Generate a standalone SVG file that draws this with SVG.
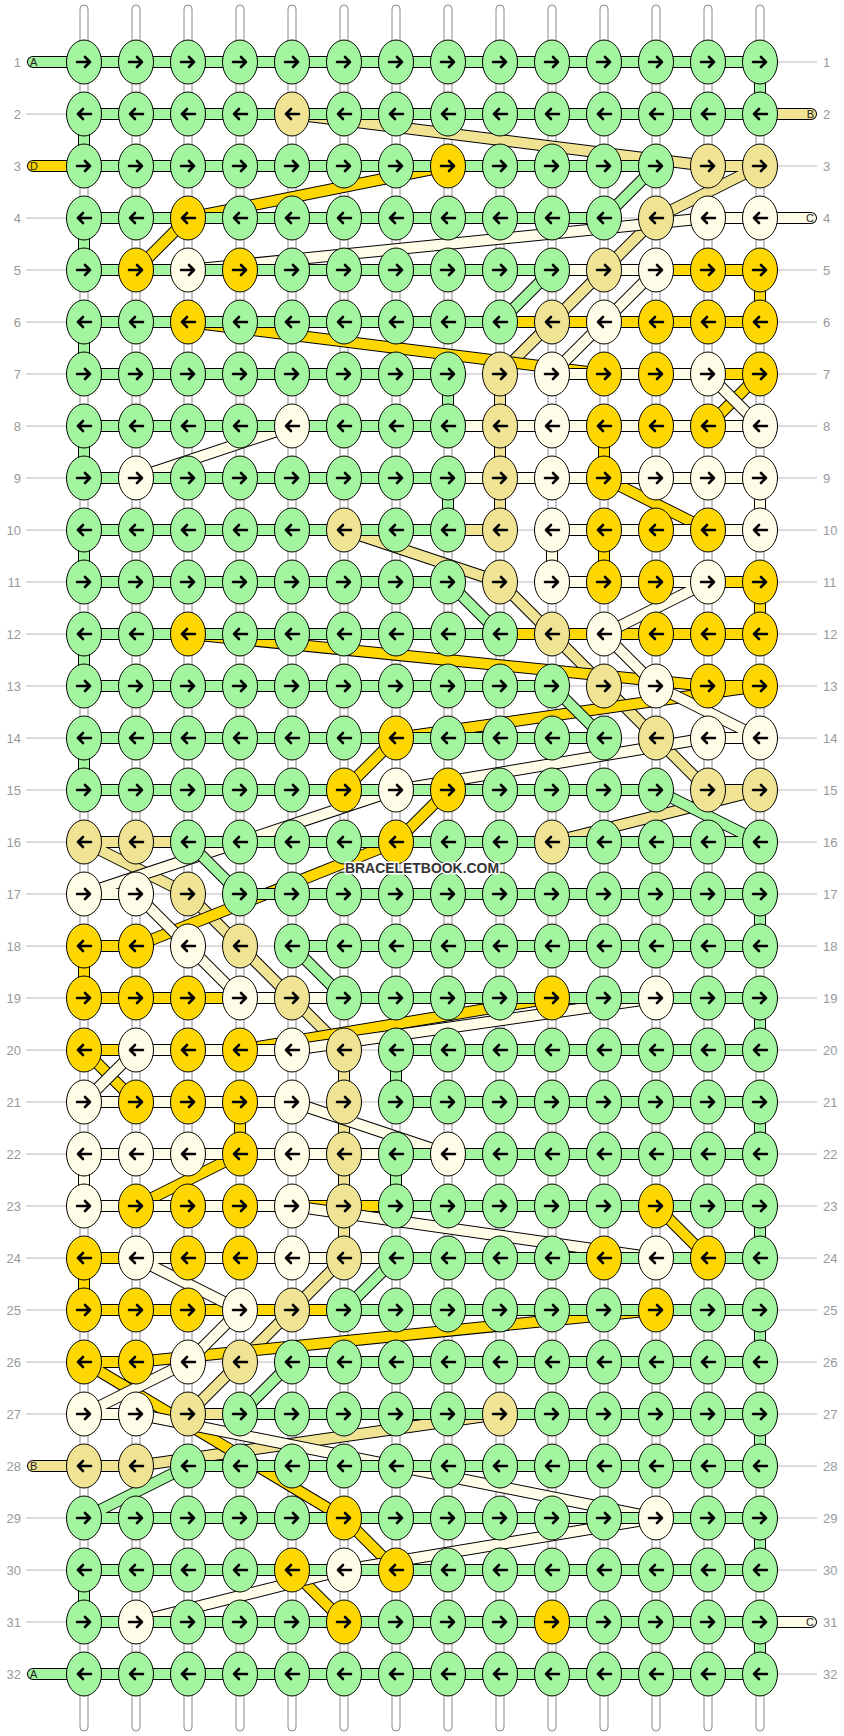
<svg xmlns="http://www.w3.org/2000/svg" xmlns:xlink="http://www.w3.org/1999/xlink" width="844" height="1736" viewBox="0 0 844 1736">
<defs>
<style>
.rn{font-family:"Liberation Sans",Arial,sans-serif;font-size:13px;fill:#999}
.rl{text-anchor:end}
.o{fill:none;stroke:#000;stroke-width:12;stroke-linejoin:round;stroke-linecap:round}
.f{fill:none;stroke-width:10;stroke-linejoin:round;stroke-linecap:round}
.w{fill:#fff;stroke:#8a8a8a;stroke-width:1}
.sl{font-family:"Liberation Sans",Arial,sans-serif;font-size:11px;fill:#222}
</style>
<path id="aR" d="M-7,0H6M1,-5L6,0L1,5" fill="none" stroke="#000" stroke-width="2.6" stroke-linecap="round" stroke-linejoin="round"/>
<path id="aL" d="M7,0H-6M-1,-5L-6,0L-1,5" fill="none" stroke="#000" stroke-width="2.6" stroke-linecap="round" stroke-linejoin="round"/>
<g id="gR"><ellipse rx="17.5" ry="22" fill="#a3f5a0" stroke="#000" stroke-width="1"/><use href="#aR"/></g>
<g id="gL"><ellipse rx="17.5" ry="22" fill="#a3f5a0" stroke="#000" stroke-width="1"/><use href="#aL"/></g>
<g id="bR"><ellipse rx="17.5" ry="22" fill="#f0e394" stroke="#000" stroke-width="1"/><use href="#aR"/></g>
<g id="bL"><ellipse rx="17.5" ry="22" fill="#f0e394" stroke="#000" stroke-width="1"/><use href="#aL"/></g>
<g id="cR"><ellipse rx="17.5" ry="22" fill="#fffde8" stroke="#000" stroke-width="1"/><use href="#aR"/></g>
<g id="cL"><ellipse rx="17.5" ry="22" fill="#fffde8" stroke="#000" stroke-width="1"/><use href="#aL"/></g>
<g id="dR"><ellipse rx="17.5" ry="22" fill="#ffd700" stroke="#000" stroke-width="1"/><use href="#aR"/></g>
<g id="dL"><ellipse rx="17.5" ry="22" fill="#ffd700" stroke="#000" stroke-width="1"/><use href="#aL"/></g>
</defs>
<rect width="844" height="1736" fill="#fff"/>
<g id="rowlines" stroke="#b8b8b8" stroke-width="1">
<path d="M26,62H817M26,114H817M26,166H817M26,218H817M26,270H817M26,322H817M26,374H817M26,426H817M26,478H817M26,530H817M26,582H817M26,634H817M26,686H817M26,738H817M26,790H817M26,842H817M26,894H817M26,946H817M26,998H817M26,1050H817M26,1102H817M26,1154H817M26,1206H817M26,1258H817M26,1310H817M26,1362H817M26,1414H817M26,1466H817M26,1518H817M26,1570H817M26,1622H817M26,1674H817"/>
</g>
<g id="warps">
<rect class="w" x="80" y="5" width="8" height="1726" rx="4"/>
<rect class="w" x="132" y="5" width="8" height="1726" rx="4"/>
<rect class="w" x="184" y="5" width="8" height="1726" rx="4"/>
<rect class="w" x="236" y="5" width="8" height="1726" rx="4"/>
<rect class="w" x="288" y="5" width="8" height="1726" rx="4"/>
<rect class="w" x="340" y="5" width="8" height="1726" rx="4"/>
<rect class="w" x="392" y="5" width="8" height="1726" rx="4"/>
<rect class="w" x="444" y="5" width="8" height="1726" rx="4"/>
<rect class="w" x="496" y="5" width="8" height="1726" rx="4"/>
<rect class="w" x="548" y="5" width="8" height="1726" rx="4"/>
<rect class="w" x="600" y="5" width="8" height="1726" rx="4"/>
<rect class="w" x="652" y="5" width="8" height="1726" rx="4"/>
<rect class="w" x="704" y="5" width="8" height="1726" rx="4"/>
<rect class="w" x="756" y="5" width="8" height="1726" rx="4"/>
</g>
<g id="connectors">
<g id="strandB">
<polyline class="o" points="811,114 292,114 708,166 760,166 656,218 604,270 552,322 500,374 500,530 344,530 500,582 552,634 604,686 656,738 708,790 760,790 552,842 84,842 188,894 240,946 292,998 344,1050 344,1258 292,1310 240,1362 188,1414 500,1414 136,1466 33,1466"/>
<polyline class="f" stroke="#f0e394" points="811,114 292,114 708,166 760,166 656,218 604,270 552,322 500,374 500,530 344,530 500,582 552,634 604,686 656,738 708,790 760,790 552,842 84,842 188,894 240,946 292,998 344,1050 344,1258 292,1310 240,1362 188,1414 500,1414 136,1466 33,1466"/>
</g>
<g id="strandD">
<polyline class="o" points="33,166 448,166 188,218 136,270 760,270 760,322 188,322 604,374 760,374 708,426 604,426 604,478 708,530 604,530 604,582 760,582 760,634 188,634 708,686 760,686 396,738 344,790 448,790 396,842 136,946 84,946 84,998 552,998 240,1050 84,1050 136,1102 240,1102 240,1154 136,1206 656,1206 708,1258 84,1258 84,1310 656,1310 136,1362 84,1362 344,1518 396,1570 292,1570 344,1622 552,1622"/>
<polyline class="f" stroke="#ffd700" points="33,166 448,166 188,218 136,270 760,270 760,322 188,322 604,374 760,374 708,426 604,426 604,478 708,530 604,530 604,582 760,582 760,634 188,634 708,686 760,686 396,738 344,790 448,790 396,842 136,946 84,946 84,998 552,998 240,1050 84,1050 136,1102 240,1102 240,1154 136,1206 656,1206 708,1258 84,1258 84,1310 656,1310 136,1362 84,1362 344,1518 396,1570 292,1570 344,1622 552,1622"/>
</g>
<g id="strandC">
<polyline class="o" points="811,218 708,218 188,270 656,270 604,322 552,374 708,374 760,426 292,426 136,478 760,478 760,530 552,530 552,582 708,582 604,634 656,686 760,738 708,738 396,790 84,894 136,894 188,946 240,998 656,998 292,1050 136,1050 84,1102 292,1102 448,1154 84,1154 84,1206 292,1206 656,1258 136,1258 240,1310 188,1362 84,1414 136,1414 656,1518 344,1570 136,1622 811,1622"/>
<polyline class="f" stroke="#fffde8" points="811,218 708,218 188,270 656,270 604,322 552,374 708,374 760,426 292,426 136,478 760,478 760,530 552,530 552,582 708,582 604,634 656,686 760,738 708,738 396,790 84,894 136,894 188,946 240,998 656,998 292,1050 136,1050 84,1102 292,1102 448,1154 84,1154 84,1206 292,1206 656,1258 136,1258 240,1310 188,1362 84,1414 136,1414 656,1518 344,1570 136,1622 811,1622"/>
</g>
<g id="strandA">
<polyline class="o" points="33,62 760,62 760,114 84,114 84,166 656,166 604,218 84,218 84,270 552,270 500,322 84,322 84,374 448,374 448,426 84,426 84,478 448,478 448,530 84,530 84,582 448,582 500,634 84,634 84,686 552,686 604,738 84,738 84,790 656,790 760,842 188,842 240,894 760,894 760,946 292,946 344,998 760,998 760,1050 396,1050 396,1102 760,1102 760,1154 396,1154 396,1206 760,1206 760,1258 396,1258 344,1310 760,1310 760,1362 292,1362 240,1414 760,1414 760,1466 188,1466 84,1518 760,1518 760,1570 84,1570 84,1622 760,1622 760,1674 33,1674"/>
<polyline class="f" stroke="#a3f5a0" points="33,62 760,62 760,114 84,114 84,166 656,166 604,218 84,218 84,270 552,270 500,322 84,322 84,374 448,374 448,426 84,426 84,478 448,478 448,530 84,530 84,582 448,582 500,634 84,634 84,686 552,686 604,738 84,738 84,790 656,790 760,842 188,842 240,894 760,894 760,946 292,946 344,998 760,998 760,1050 396,1050 396,1102 760,1102 760,1154 396,1154 396,1206 760,1206 760,1258 396,1258 344,1310 760,1310 760,1362 292,1362 240,1414 760,1414 760,1466 188,1466 84,1518 760,1518 760,1570 84,1570 84,1622 760,1622 760,1674 33,1674"/>
</g>
</g>
<g id="stublabels" class="sl">
<text x="30" y="66">A</text>
<text x="30" y="170">D</text>
<text x="30" y="1470">B</text>
<text x="30" y="1678">A</text>
<text x="814" y="118" text-anchor="end">B</text>
<text x="814" y="222" text-anchor="end">C</text>
<text x="814" y="1626" text-anchor="end">C</text>
</g>
<g id="knots">
<g id="n1-1"><use href="#gR" x="84" y="62"/></g><g id="n1-2"><use href="#gR" x="136" y="62"/></g><g id="n1-3"><use href="#gR" x="188" y="62"/></g><g id="n1-4"><use href="#gR" x="240" y="62"/></g><g id="n1-5"><use href="#gR" x="292" y="62"/></g><g id="n1-6"><use href="#gR" x="344" y="62"/></g><g id="n1-7"><use href="#gR" x="396" y="62"/></g><g id="n1-8"><use href="#gR" x="448" y="62"/></g><g id="n1-9"><use href="#gR" x="500" y="62"/></g><g id="n1-10"><use href="#gR" x="552" y="62"/></g><g id="n1-11"><use href="#gR" x="604" y="62"/></g><g id="n1-12"><use href="#gR" x="656" y="62"/></g><g id="n1-13"><use href="#gR" x="708" y="62"/></g><g id="n1-14"><use href="#gR" x="760" y="62"/></g>
<g id="n2-1"><use href="#gL" x="84" y="114"/></g><g id="n2-2"><use href="#gL" x="136" y="114"/></g><g id="n2-3"><use href="#gL" x="188" y="114"/></g><g id="n2-4"><use href="#gL" x="240" y="114"/></g><g id="n2-5"><use href="#bL" x="292" y="114"/></g><g id="n2-6"><use href="#gL" x="344" y="114"/></g><g id="n2-7"><use href="#gL" x="396" y="114"/></g><g id="n2-8"><use href="#gL" x="448" y="114"/></g><g id="n2-9"><use href="#gL" x="500" y="114"/></g><g id="n2-10"><use href="#gL" x="552" y="114"/></g><g id="n2-11"><use href="#gL" x="604" y="114"/></g><g id="n2-12"><use href="#gL" x="656" y="114"/></g><g id="n2-13"><use href="#gL" x="708" y="114"/></g><g id="n2-14"><use href="#gL" x="760" y="114"/></g>
<g id="n3-1"><use href="#gR" x="84" y="166"/></g><g id="n3-2"><use href="#gR" x="136" y="166"/></g><g id="n3-3"><use href="#gR" x="188" y="166"/></g><g id="n3-4"><use href="#gR" x="240" y="166"/></g><g id="n3-5"><use href="#gR" x="292" y="166"/></g><g id="n3-6"><use href="#gR" x="344" y="166"/></g><g id="n3-7"><use href="#gR" x="396" y="166"/></g><g id="n3-8"><use href="#dR" x="448" y="166"/></g><g id="n3-9"><use href="#gR" x="500" y="166"/></g><g id="n3-10"><use href="#gR" x="552" y="166"/></g><g id="n3-11"><use href="#gR" x="604" y="166"/></g><g id="n3-12"><use href="#gR" x="656" y="166"/></g><g id="n3-13"><use href="#bR" x="708" y="166"/></g><g id="n3-14"><use href="#bR" x="760" y="166"/></g>
<g id="n4-1"><use href="#gL" x="84" y="218"/></g><g id="n4-2"><use href="#gL" x="136" y="218"/></g><g id="n4-3"><use href="#dL" x="188" y="218"/></g><g id="n4-4"><use href="#gL" x="240" y="218"/></g><g id="n4-5"><use href="#gL" x="292" y="218"/></g><g id="n4-6"><use href="#gL" x="344" y="218"/></g><g id="n4-7"><use href="#gL" x="396" y="218"/></g><g id="n4-8"><use href="#gL" x="448" y="218"/></g><g id="n4-9"><use href="#gL" x="500" y="218"/></g><g id="n4-10"><use href="#gL" x="552" y="218"/></g><g id="n4-11"><use href="#gL" x="604" y="218"/></g><g id="n4-12"><use href="#bL" x="656" y="218"/></g><g id="n4-13"><use href="#cL" x="708" y="218"/></g><g id="n4-14"><use href="#cL" x="760" y="218"/></g>
<g id="n5-1"><use href="#gR" x="84" y="270"/></g><g id="n5-2"><use href="#dR" x="136" y="270"/></g><g id="n5-3"><use href="#cR" x="188" y="270"/></g><g id="n5-4"><use href="#dR" x="240" y="270"/></g><g id="n5-5"><use href="#gR" x="292" y="270"/></g><g id="n5-6"><use href="#gR" x="344" y="270"/></g><g id="n5-7"><use href="#gR" x="396" y="270"/></g><g id="n5-8"><use href="#gR" x="448" y="270"/></g><g id="n5-9"><use href="#gR" x="500" y="270"/></g><g id="n5-10"><use href="#gR" x="552" y="270"/></g><g id="n5-11"><use href="#bR" x="604" y="270"/></g><g id="n5-12"><use href="#cR" x="656" y="270"/></g><g id="n5-13"><use href="#dR" x="708" y="270"/></g><g id="n5-14"><use href="#dR" x="760" y="270"/></g>
<g id="n6-1"><use href="#gL" x="84" y="322"/></g><g id="n6-2"><use href="#gL" x="136" y="322"/></g><g id="n6-3"><use href="#dL" x="188" y="322"/></g><g id="n6-4"><use href="#gL" x="240" y="322"/></g><g id="n6-5"><use href="#gL" x="292" y="322"/></g><g id="n6-6"><use href="#gL" x="344" y="322"/></g><g id="n6-7"><use href="#gL" x="396" y="322"/></g><g id="n6-8"><use href="#gL" x="448" y="322"/></g><g id="n6-9"><use href="#gL" x="500" y="322"/></g><g id="n6-10"><use href="#bL" x="552" y="322"/></g><g id="n6-11"><use href="#cL" x="604" y="322"/></g><g id="n6-12"><use href="#dL" x="656" y="322"/></g><g id="n6-13"><use href="#dL" x="708" y="322"/></g><g id="n6-14"><use href="#dL" x="760" y="322"/></g>
<g id="n7-1"><use href="#gR" x="84" y="374"/></g><g id="n7-2"><use href="#gR" x="136" y="374"/></g><g id="n7-3"><use href="#gR" x="188" y="374"/></g><g id="n7-4"><use href="#gR" x="240" y="374"/></g><g id="n7-5"><use href="#gR" x="292" y="374"/></g><g id="n7-6"><use href="#gR" x="344" y="374"/></g><g id="n7-7"><use href="#gR" x="396" y="374"/></g><g id="n7-8"><use href="#gR" x="448" y="374"/></g><g id="n7-9"><use href="#bR" x="500" y="374"/></g><g id="n7-10"><use href="#cR" x="552" y="374"/></g><g id="n7-11"><use href="#dR" x="604" y="374"/></g><g id="n7-12"><use href="#dR" x="656" y="374"/></g><g id="n7-13"><use href="#cR" x="708" y="374"/></g><g id="n7-14"><use href="#dR" x="760" y="374"/></g>
<g id="n8-1"><use href="#gL" x="84" y="426"/></g><g id="n8-2"><use href="#gL" x="136" y="426"/></g><g id="n8-3"><use href="#gL" x="188" y="426"/></g><g id="n8-4"><use href="#gL" x="240" y="426"/></g><g id="n8-5"><use href="#cL" x="292" y="426"/></g><g id="n8-6"><use href="#gL" x="344" y="426"/></g><g id="n8-7"><use href="#gL" x="396" y="426"/></g><g id="n8-8"><use href="#gL" x="448" y="426"/></g><g id="n8-9"><use href="#bL" x="500" y="426"/></g><g id="n8-10"><use href="#cL" x="552" y="426"/></g><g id="n8-11"><use href="#dL" x="604" y="426"/></g><g id="n8-12"><use href="#dL" x="656" y="426"/></g><g id="n8-13"><use href="#dL" x="708" y="426"/></g><g id="n8-14"><use href="#cL" x="760" y="426"/></g>
<g id="n9-1"><use href="#gR" x="84" y="478"/></g><g id="n9-2"><use href="#cR" x="136" y="478"/></g><g id="n9-3"><use href="#gR" x="188" y="478"/></g><g id="n9-4"><use href="#gR" x="240" y="478"/></g><g id="n9-5"><use href="#gR" x="292" y="478"/></g><g id="n9-6"><use href="#gR" x="344" y="478"/></g><g id="n9-7"><use href="#gR" x="396" y="478"/></g><g id="n9-8"><use href="#gR" x="448" y="478"/></g><g id="n9-9"><use href="#bR" x="500" y="478"/></g><g id="n9-10"><use href="#cR" x="552" y="478"/></g><g id="n9-11"><use href="#dR" x="604" y="478"/></g><g id="n9-12"><use href="#cR" x="656" y="478"/></g><g id="n9-13"><use href="#cR" x="708" y="478"/></g><g id="n9-14"><use href="#cR" x="760" y="478"/></g>
<g id="n10-1"><use href="#gL" x="84" y="530"/></g><g id="n10-2"><use href="#gL" x="136" y="530"/></g><g id="n10-3"><use href="#gL" x="188" y="530"/></g><g id="n10-4"><use href="#gL" x="240" y="530"/></g><g id="n10-5"><use href="#gL" x="292" y="530"/></g><g id="n10-6"><use href="#bL" x="344" y="530"/></g><g id="n10-7"><use href="#gL" x="396" y="530"/></g><g id="n10-8"><use href="#gL" x="448" y="530"/></g><g id="n10-9"><use href="#bL" x="500" y="530"/></g><g id="n10-10"><use href="#cL" x="552" y="530"/></g><g id="n10-11"><use href="#dL" x="604" y="530"/></g><g id="n10-12"><use href="#dL" x="656" y="530"/></g><g id="n10-13"><use href="#dL" x="708" y="530"/></g><g id="n10-14"><use href="#cL" x="760" y="530"/></g>
<g id="n11-1"><use href="#gR" x="84" y="582"/></g><g id="n11-2"><use href="#gR" x="136" y="582"/></g><g id="n11-3"><use href="#gR" x="188" y="582"/></g><g id="n11-4"><use href="#gR" x="240" y="582"/></g><g id="n11-5"><use href="#gR" x="292" y="582"/></g><g id="n11-6"><use href="#gR" x="344" y="582"/></g><g id="n11-7"><use href="#gR" x="396" y="582"/></g><g id="n11-8"><use href="#gR" x="448" y="582"/></g><g id="n11-9"><use href="#bR" x="500" y="582"/></g><g id="n11-10"><use href="#cR" x="552" y="582"/></g><g id="n11-11"><use href="#dR" x="604" y="582"/></g><g id="n11-12"><use href="#dR" x="656" y="582"/></g><g id="n11-13"><use href="#cR" x="708" y="582"/></g><g id="n11-14"><use href="#dR" x="760" y="582"/></g>
<g id="n12-1"><use href="#gL" x="84" y="634"/></g><g id="n12-2"><use href="#gL" x="136" y="634"/></g><g id="n12-3"><use href="#dL" x="188" y="634"/></g><g id="n12-4"><use href="#gL" x="240" y="634"/></g><g id="n12-5"><use href="#gL" x="292" y="634"/></g><g id="n12-6"><use href="#gL" x="344" y="634"/></g><g id="n12-7"><use href="#gL" x="396" y="634"/></g><g id="n12-8"><use href="#gL" x="448" y="634"/></g><g id="n12-9"><use href="#gL" x="500" y="634"/></g><g id="n12-10"><use href="#bL" x="552" y="634"/></g><g id="n12-11"><use href="#cL" x="604" y="634"/></g><g id="n12-12"><use href="#dL" x="656" y="634"/></g><g id="n12-13"><use href="#dL" x="708" y="634"/></g><g id="n12-14"><use href="#dL" x="760" y="634"/></g>
<g id="n13-1"><use href="#gR" x="84" y="686"/></g><g id="n13-2"><use href="#gR" x="136" y="686"/></g><g id="n13-3"><use href="#gR" x="188" y="686"/></g><g id="n13-4"><use href="#gR" x="240" y="686"/></g><g id="n13-5"><use href="#gR" x="292" y="686"/></g><g id="n13-6"><use href="#gR" x="344" y="686"/></g><g id="n13-7"><use href="#gR" x="396" y="686"/></g><g id="n13-8"><use href="#gR" x="448" y="686"/></g><g id="n13-9"><use href="#gR" x="500" y="686"/></g><g id="n13-10"><use href="#gR" x="552" y="686"/></g><g id="n13-11"><use href="#bR" x="604" y="686"/></g><g id="n13-12"><use href="#cR" x="656" y="686"/></g><g id="n13-13"><use href="#dR" x="708" y="686"/></g><g id="n13-14"><use href="#dR" x="760" y="686"/></g>
<g id="n14-1"><use href="#gL" x="84" y="738"/></g><g id="n14-2"><use href="#gL" x="136" y="738"/></g><g id="n14-3"><use href="#gL" x="188" y="738"/></g><g id="n14-4"><use href="#gL" x="240" y="738"/></g><g id="n14-5"><use href="#gL" x="292" y="738"/></g><g id="n14-6"><use href="#gL" x="344" y="738"/></g><g id="n14-7"><use href="#dL" x="396" y="738"/></g><g id="n14-8"><use href="#gL" x="448" y="738"/></g><g id="n14-9"><use href="#gL" x="500" y="738"/></g><g id="n14-10"><use href="#gL" x="552" y="738"/></g><g id="n14-11"><use href="#gL" x="604" y="738"/></g><g id="n14-12"><use href="#bL" x="656" y="738"/></g><g id="n14-13"><use href="#cL" x="708" y="738"/></g><g id="n14-14"><use href="#cL" x="760" y="738"/></g>
<g id="n15-1"><use href="#gR" x="84" y="790"/></g><g id="n15-2"><use href="#gR" x="136" y="790"/></g><g id="n15-3"><use href="#gR" x="188" y="790"/></g><g id="n15-4"><use href="#gR" x="240" y="790"/></g><g id="n15-5"><use href="#gR" x="292" y="790"/></g><g id="n15-6"><use href="#dR" x="344" y="790"/></g><g id="n15-7"><use href="#cR" x="396" y="790"/></g><g id="n15-8"><use href="#dR" x="448" y="790"/></g><g id="n15-9"><use href="#gR" x="500" y="790"/></g><g id="n15-10"><use href="#gR" x="552" y="790"/></g><g id="n15-11"><use href="#gR" x="604" y="790"/></g><g id="n15-12"><use href="#gR" x="656" y="790"/></g><g id="n15-13"><use href="#bR" x="708" y="790"/></g><g id="n15-14"><use href="#bR" x="760" y="790"/></g>
<g id="n16-1"><use href="#bL" x="84" y="842"/></g><g id="n16-2"><use href="#bL" x="136" y="842"/></g><g id="n16-3"><use href="#gL" x="188" y="842"/></g><g id="n16-4"><use href="#gL" x="240" y="842"/></g><g id="n16-5"><use href="#gL" x="292" y="842"/></g><g id="n16-6"><use href="#gL" x="344" y="842"/></g><g id="n16-7"><use href="#dL" x="396" y="842"/></g><g id="n16-8"><use href="#gL" x="448" y="842"/></g><g id="n16-9"><use href="#gL" x="500" y="842"/></g><g id="n16-10"><use href="#bL" x="552" y="842"/></g><g id="n16-11"><use href="#gL" x="604" y="842"/></g><g id="n16-12"><use href="#gL" x="656" y="842"/></g><g id="n16-13"><use href="#gL" x="708" y="842"/></g><g id="n16-14"><use href="#gL" x="760" y="842"/></g>
<g id="n17-1"><use href="#cR" x="84" y="894"/></g><g id="n17-2"><use href="#cR" x="136" y="894"/></g><g id="n17-3"><use href="#bR" x="188" y="894"/></g><g id="n17-4"><use href="#gR" x="240" y="894"/></g><g id="n17-5"><use href="#gR" x="292" y="894"/></g><g id="n17-6"><use href="#gR" x="344" y="894"/></g><g id="n17-7"><use href="#gR" x="396" y="894"/></g><g id="n17-8"><use href="#gR" x="448" y="894"/></g><g id="n17-9"><use href="#gR" x="500" y="894"/></g><g id="n17-10"><use href="#gR" x="552" y="894"/></g><g id="n17-11"><use href="#gR" x="604" y="894"/></g><g id="n17-12"><use href="#gR" x="656" y="894"/></g><g id="n17-13"><use href="#gR" x="708" y="894"/></g><g id="n17-14"><use href="#gR" x="760" y="894"/></g>
<g id="n18-1"><use href="#dL" x="84" y="946"/></g><g id="n18-2"><use href="#dL" x="136" y="946"/></g><g id="n18-3"><use href="#cL" x="188" y="946"/></g><g id="n18-4"><use href="#bL" x="240" y="946"/></g><g id="n18-5"><use href="#gL" x="292" y="946"/></g><g id="n18-6"><use href="#gL" x="344" y="946"/></g><g id="n18-7"><use href="#gL" x="396" y="946"/></g><g id="n18-8"><use href="#gL" x="448" y="946"/></g><g id="n18-9"><use href="#gL" x="500" y="946"/></g><g id="n18-10"><use href="#gL" x="552" y="946"/></g><g id="n18-11"><use href="#gL" x="604" y="946"/></g><g id="n18-12"><use href="#gL" x="656" y="946"/></g><g id="n18-13"><use href="#gL" x="708" y="946"/></g><g id="n18-14"><use href="#gL" x="760" y="946"/></g>
<g id="n19-1"><use href="#dR" x="84" y="998"/></g><g id="n19-2"><use href="#dR" x="136" y="998"/></g><g id="n19-3"><use href="#dR" x="188" y="998"/></g><g id="n19-4"><use href="#cR" x="240" y="998"/></g><g id="n19-5"><use href="#bR" x="292" y="998"/></g><g id="n19-6"><use href="#gR" x="344" y="998"/></g><g id="n19-7"><use href="#gR" x="396" y="998"/></g><g id="n19-8"><use href="#gR" x="448" y="998"/></g><g id="n19-9"><use href="#gR" x="500" y="998"/></g><g id="n19-10"><use href="#dR" x="552" y="998"/></g><g id="n19-11"><use href="#gR" x="604" y="998"/></g><g id="n19-12"><use href="#cR" x="656" y="998"/></g><g id="n19-13"><use href="#gR" x="708" y="998"/></g><g id="n19-14"><use href="#gR" x="760" y="998"/></g>
<g id="n20-1"><use href="#dL" x="84" y="1050"/></g><g id="n20-2"><use href="#cL" x="136" y="1050"/></g><g id="n20-3"><use href="#dL" x="188" y="1050"/></g><g id="n20-4"><use href="#dL" x="240" y="1050"/></g><g id="n20-5"><use href="#cL" x="292" y="1050"/></g><g id="n20-6"><use href="#bL" x="344" y="1050"/></g><g id="n20-7"><use href="#gL" x="396" y="1050"/></g><g id="n20-8"><use href="#gL" x="448" y="1050"/></g><g id="n20-9"><use href="#gL" x="500" y="1050"/></g><g id="n20-10"><use href="#gL" x="552" y="1050"/></g><g id="n20-11"><use href="#gL" x="604" y="1050"/></g><g id="n20-12"><use href="#gL" x="656" y="1050"/></g><g id="n20-13"><use href="#gL" x="708" y="1050"/></g><g id="n20-14"><use href="#gL" x="760" y="1050"/></g>
<g id="n21-1"><use href="#cR" x="84" y="1102"/></g><g id="n21-2"><use href="#dR" x="136" y="1102"/></g><g id="n21-3"><use href="#dR" x="188" y="1102"/></g><g id="n21-4"><use href="#dR" x="240" y="1102"/></g><g id="n21-5"><use href="#cR" x="292" y="1102"/></g><g id="n21-6"><use href="#bR" x="344" y="1102"/></g><g id="n21-7"><use href="#gR" x="396" y="1102"/></g><g id="n21-8"><use href="#gR" x="448" y="1102"/></g><g id="n21-9"><use href="#gR" x="500" y="1102"/></g><g id="n21-10"><use href="#gR" x="552" y="1102"/></g><g id="n21-11"><use href="#gR" x="604" y="1102"/></g><g id="n21-12"><use href="#gR" x="656" y="1102"/></g><g id="n21-13"><use href="#gR" x="708" y="1102"/></g><g id="n21-14"><use href="#gR" x="760" y="1102"/></g>
<g id="n22-1"><use href="#cL" x="84" y="1154"/></g><g id="n22-2"><use href="#cL" x="136" y="1154"/></g><g id="n22-3"><use href="#cL" x="188" y="1154"/></g><g id="n22-4"><use href="#dL" x="240" y="1154"/></g><g id="n22-5"><use href="#cL" x="292" y="1154"/></g><g id="n22-6"><use href="#bL" x="344" y="1154"/></g><g id="n22-7"><use href="#gL" x="396" y="1154"/></g><g id="n22-8"><use href="#cL" x="448" y="1154"/></g><g id="n22-9"><use href="#gL" x="500" y="1154"/></g><g id="n22-10"><use href="#gL" x="552" y="1154"/></g><g id="n22-11"><use href="#gL" x="604" y="1154"/></g><g id="n22-12"><use href="#gL" x="656" y="1154"/></g><g id="n22-13"><use href="#gL" x="708" y="1154"/></g><g id="n22-14"><use href="#gL" x="760" y="1154"/></g>
<g id="n23-1"><use href="#cR" x="84" y="1206"/></g><g id="n23-2"><use href="#dR" x="136" y="1206"/></g><g id="n23-3"><use href="#dR" x="188" y="1206"/></g><g id="n23-4"><use href="#dR" x="240" y="1206"/></g><g id="n23-5"><use href="#cR" x="292" y="1206"/></g><g id="n23-6"><use href="#bR" x="344" y="1206"/></g><g id="n23-7"><use href="#gR" x="396" y="1206"/></g><g id="n23-8"><use href="#gR" x="448" y="1206"/></g><g id="n23-9"><use href="#gR" x="500" y="1206"/></g><g id="n23-10"><use href="#gR" x="552" y="1206"/></g><g id="n23-11"><use href="#gR" x="604" y="1206"/></g><g id="n23-12"><use href="#dR" x="656" y="1206"/></g><g id="n23-13"><use href="#gR" x="708" y="1206"/></g><g id="n23-14"><use href="#gR" x="760" y="1206"/></g>
<g id="n24-1"><use href="#dL" x="84" y="1258"/></g><g id="n24-2"><use href="#cL" x="136" y="1258"/></g><g id="n24-3"><use href="#dL" x="188" y="1258"/></g><g id="n24-4"><use href="#dL" x="240" y="1258"/></g><g id="n24-5"><use href="#cL" x="292" y="1258"/></g><g id="n24-6"><use href="#bL" x="344" y="1258"/></g><g id="n24-7"><use href="#gL" x="396" y="1258"/></g><g id="n24-8"><use href="#gL" x="448" y="1258"/></g><g id="n24-9"><use href="#gL" x="500" y="1258"/></g><g id="n24-10"><use href="#gL" x="552" y="1258"/></g><g id="n24-11"><use href="#dL" x="604" y="1258"/></g><g id="n24-12"><use href="#cL" x="656" y="1258"/></g><g id="n24-13"><use href="#dL" x="708" y="1258"/></g><g id="n24-14"><use href="#gL" x="760" y="1258"/></g>
<g id="n25-1"><use href="#dR" x="84" y="1310"/></g><g id="n25-2"><use href="#dR" x="136" y="1310"/></g><g id="n25-3"><use href="#dR" x="188" y="1310"/></g><g id="n25-4"><use href="#cR" x="240" y="1310"/></g><g id="n25-5"><use href="#bR" x="292" y="1310"/></g><g id="n25-6"><use href="#gR" x="344" y="1310"/></g><g id="n25-7"><use href="#gR" x="396" y="1310"/></g><g id="n25-8"><use href="#gR" x="448" y="1310"/></g><g id="n25-9"><use href="#gR" x="500" y="1310"/></g><g id="n25-10"><use href="#gR" x="552" y="1310"/></g><g id="n25-11"><use href="#gR" x="604" y="1310"/></g><g id="n25-12"><use href="#dR" x="656" y="1310"/></g><g id="n25-13"><use href="#gR" x="708" y="1310"/></g><g id="n25-14"><use href="#gR" x="760" y="1310"/></g>
<g id="n26-1"><use href="#dL" x="84" y="1362"/></g><g id="n26-2"><use href="#dL" x="136" y="1362"/></g><g id="n26-3"><use href="#cL" x="188" y="1362"/></g><g id="n26-4"><use href="#bL" x="240" y="1362"/></g><g id="n26-5"><use href="#gL" x="292" y="1362"/></g><g id="n26-6"><use href="#gL" x="344" y="1362"/></g><g id="n26-7"><use href="#gL" x="396" y="1362"/></g><g id="n26-8"><use href="#gL" x="448" y="1362"/></g><g id="n26-9"><use href="#gL" x="500" y="1362"/></g><g id="n26-10"><use href="#gL" x="552" y="1362"/></g><g id="n26-11"><use href="#gL" x="604" y="1362"/></g><g id="n26-12"><use href="#gL" x="656" y="1362"/></g><g id="n26-13"><use href="#gL" x="708" y="1362"/></g><g id="n26-14"><use href="#gL" x="760" y="1362"/></g>
<g id="n27-1"><use href="#cR" x="84" y="1414"/></g><g id="n27-2"><use href="#cR" x="136" y="1414"/></g><g id="n27-3"><use href="#bR" x="188" y="1414"/></g><g id="n27-4"><use href="#gR" x="240" y="1414"/></g><g id="n27-5"><use href="#gR" x="292" y="1414"/></g><g id="n27-6"><use href="#gR" x="344" y="1414"/></g><g id="n27-7"><use href="#gR" x="396" y="1414"/></g><g id="n27-8"><use href="#gR" x="448" y="1414"/></g><g id="n27-9"><use href="#bR" x="500" y="1414"/></g><g id="n27-10"><use href="#gR" x="552" y="1414"/></g><g id="n27-11"><use href="#gR" x="604" y="1414"/></g><g id="n27-12"><use href="#gR" x="656" y="1414"/></g><g id="n27-13"><use href="#gR" x="708" y="1414"/></g><g id="n27-14"><use href="#gR" x="760" y="1414"/></g>
<g id="n28-1"><use href="#bL" x="84" y="1466"/></g><g id="n28-2"><use href="#bL" x="136" y="1466"/></g><g id="n28-3"><use href="#gL" x="188" y="1466"/></g><g id="n28-4"><use href="#gL" x="240" y="1466"/></g><g id="n28-5"><use href="#gL" x="292" y="1466"/></g><g id="n28-6"><use href="#gL" x="344" y="1466"/></g><g id="n28-7"><use href="#gL" x="396" y="1466"/></g><g id="n28-8"><use href="#gL" x="448" y="1466"/></g><g id="n28-9"><use href="#gL" x="500" y="1466"/></g><g id="n28-10"><use href="#gL" x="552" y="1466"/></g><g id="n28-11"><use href="#gL" x="604" y="1466"/></g><g id="n28-12"><use href="#gL" x="656" y="1466"/></g><g id="n28-13"><use href="#gL" x="708" y="1466"/></g><g id="n28-14"><use href="#gL" x="760" y="1466"/></g>
<g id="n29-1"><use href="#gR" x="84" y="1518"/></g><g id="n29-2"><use href="#gR" x="136" y="1518"/></g><g id="n29-3"><use href="#gR" x="188" y="1518"/></g><g id="n29-4"><use href="#gR" x="240" y="1518"/></g><g id="n29-5"><use href="#gR" x="292" y="1518"/></g><g id="n29-6"><use href="#dR" x="344" y="1518"/></g><g id="n29-7"><use href="#gR" x="396" y="1518"/></g><g id="n29-8"><use href="#gR" x="448" y="1518"/></g><g id="n29-9"><use href="#gR" x="500" y="1518"/></g><g id="n29-10"><use href="#gR" x="552" y="1518"/></g><g id="n29-11"><use href="#gR" x="604" y="1518"/></g><g id="n29-12"><use href="#cR" x="656" y="1518"/></g><g id="n29-13"><use href="#gR" x="708" y="1518"/></g><g id="n29-14"><use href="#gR" x="760" y="1518"/></g>
<g id="n30-1"><use href="#gL" x="84" y="1570"/></g><g id="n30-2"><use href="#gL" x="136" y="1570"/></g><g id="n30-3"><use href="#gL" x="188" y="1570"/></g><g id="n30-4"><use href="#gL" x="240" y="1570"/></g><g id="n30-5"><use href="#dL" x="292" y="1570"/></g><g id="n30-6"><use href="#cL" x="344" y="1570"/></g><g id="n30-7"><use href="#dL" x="396" y="1570"/></g><g id="n30-8"><use href="#gL" x="448" y="1570"/></g><g id="n30-9"><use href="#gL" x="500" y="1570"/></g><g id="n30-10"><use href="#gL" x="552" y="1570"/></g><g id="n30-11"><use href="#gL" x="604" y="1570"/></g><g id="n30-12"><use href="#gL" x="656" y="1570"/></g><g id="n30-13"><use href="#gL" x="708" y="1570"/></g><g id="n30-14"><use href="#gL" x="760" y="1570"/></g>
<g id="n31-1"><use href="#gR" x="84" y="1622"/></g><g id="n31-2"><use href="#cR" x="136" y="1622"/></g><g id="n31-3"><use href="#gR" x="188" y="1622"/></g><g id="n31-4"><use href="#gR" x="240" y="1622"/></g><g id="n31-5"><use href="#gR" x="292" y="1622"/></g><g id="n31-6"><use href="#dR" x="344" y="1622"/></g><g id="n31-7"><use href="#gR" x="396" y="1622"/></g><g id="n31-8"><use href="#gR" x="448" y="1622"/></g><g id="n31-9"><use href="#gR" x="500" y="1622"/></g><g id="n31-10"><use href="#dR" x="552" y="1622"/></g><g id="n31-11"><use href="#gR" x="604" y="1622"/></g><g id="n31-12"><use href="#gR" x="656" y="1622"/></g><g id="n31-13"><use href="#gR" x="708" y="1622"/></g><g id="n31-14"><use href="#gR" x="760" y="1622"/></g>
<g id="n32-1"><use href="#gL" x="84" y="1674"/></g><g id="n32-2"><use href="#gL" x="136" y="1674"/></g><g id="n32-3"><use href="#gL" x="188" y="1674"/></g><g id="n32-4"><use href="#gL" x="240" y="1674"/></g><g id="n32-5"><use href="#gL" x="292" y="1674"/></g><g id="n32-6"><use href="#gL" x="344" y="1674"/></g><g id="n32-7"><use href="#gL" x="396" y="1674"/></g><g id="n32-8"><use href="#gL" x="448" y="1674"/></g><g id="n32-9"><use href="#gL" x="500" y="1674"/></g><g id="n32-10"><use href="#gL" x="552" y="1674"/></g><g id="n32-11"><use href="#gL" x="604" y="1674"/></g><g id="n32-12"><use href="#gL" x="656" y="1674"/></g><g id="n32-13"><use href="#gL" x="708" y="1674"/></g><g id="n32-14"><use href="#gL" x="760" y="1674"/></g>
</g>
<g id="rownumbers" class="rn">
<text class="rl" x="21" y="66.5">1</text><text x="823" y="66.5">1</text>
<text class="rl" x="21" y="118.5">2</text><text x="823" y="118.5">2</text>
<text class="rl" x="21" y="170.5">3</text><text x="823" y="170.5">3</text>
<text class="rl" x="21" y="222.5">4</text><text x="823" y="222.5">4</text>
<text class="rl" x="21" y="274.5">5</text><text x="823" y="274.5">5</text>
<text class="rl" x="21" y="326.5">6</text><text x="823" y="326.5">6</text>
<text class="rl" x="21" y="378.5">7</text><text x="823" y="378.5">7</text>
<text class="rl" x="21" y="430.5">8</text><text x="823" y="430.5">8</text>
<text class="rl" x="21" y="482.5">9</text><text x="823" y="482.5">9</text>
<text class="rl" x="21" y="534.5">10</text><text x="823" y="534.5">10</text>
<text class="rl" x="21" y="586.5">11</text><text x="823" y="586.5">11</text>
<text class="rl" x="21" y="638.5">12</text><text x="823" y="638.5">12</text>
<text class="rl" x="21" y="690.5">13</text><text x="823" y="690.5">13</text>
<text class="rl" x="21" y="742.5">14</text><text x="823" y="742.5">14</text>
<text class="rl" x="21" y="794.5">15</text><text x="823" y="794.5">15</text>
<text class="rl" x="21" y="846.5">16</text><text x="823" y="846.5">16</text>
<text class="rl" x="21" y="898.5">17</text><text x="823" y="898.5">17</text>
<text class="rl" x="21" y="950.5">18</text><text x="823" y="950.5">18</text>
<text class="rl" x="21" y="1002.5">19</text><text x="823" y="1002.5">19</text>
<text class="rl" x="21" y="1054.5">20</text><text x="823" y="1054.5">20</text>
<text class="rl" x="21" y="1106.5">21</text><text x="823" y="1106.5">21</text>
<text class="rl" x="21" y="1158.5">22</text><text x="823" y="1158.5">22</text>
<text class="rl" x="21" y="1210.5">23</text><text x="823" y="1210.5">23</text>
<text class="rl" x="21" y="1262.5">24</text><text x="823" y="1262.5">24</text>
<text class="rl" x="21" y="1314.5">25</text><text x="823" y="1314.5">25</text>
<text class="rl" x="21" y="1366.5">26</text><text x="823" y="1366.5">26</text>
<text class="rl" x="21" y="1418.5">27</text><text x="823" y="1418.5">27</text>
<text class="rl" x="21" y="1470.5">28</text><text x="823" y="1470.5">28</text>
<text class="rl" x="21" y="1522.5">29</text><text x="823" y="1522.5">29</text>
<text class="rl" x="21" y="1574.5">30</text><text x="823" y="1574.5">30</text>
<text class="rl" x="21" y="1626.5">31</text><text x="823" y="1626.5">31</text>
<text class="rl" x="21" y="1678.5">32</text><text x="823" y="1678.5">32</text>
</g>
<text id="watermark" x="422" y="873" text-anchor="middle" font-family="'Liberation Sans',Arial,sans-serif" font-weight="bold" font-size="15" textLength="154" lengthAdjust="spacingAndGlyphs" fill="#333" stroke="#fff" stroke-width="3" stroke-linejoin="round" paint-order="stroke">BRACELETBOOK.COM</text>
</svg>
